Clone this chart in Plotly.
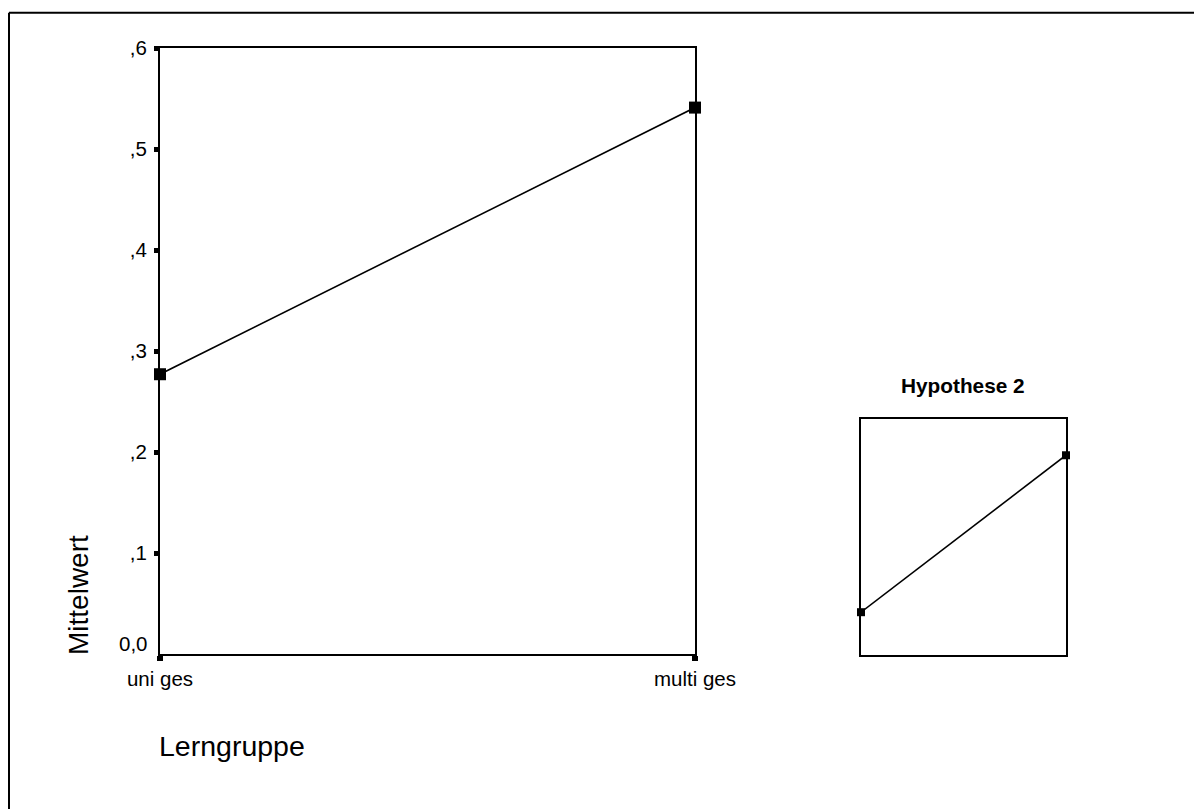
import plotly.graph_objects as go

# Data
categories = ["uni ges", "multi ges"]
means = [0.277, 0.541]
y_tickvals = [0.1, 0.2, 0.3, 0.4, 0.5, 0.6]
y_ticktext = [",1", ",2", ",3", ",4", ",5", ",6"]
zero_label = "0,0"
x_title = "Lerngruppe"
y_title = "Mittelwert"
inset_title = "Hypothese 2"

W, H = 1202, 809
OFF = 8  # page body margin


def px(x):
    return (x - OFF) / W


def py(y):
    return 1 - (y - OFF) / H


FONT = "Liberation Sans, Arial, sans-serif"
TICK_SIZE = 20.5

fig = go.Figure()

fig.add_trace(go.Scatter(
    x=categories, y=means, mode="lines+markers",
    line=dict(color="black", width=1.6),
    marker=dict(symbol="square", size=12, color="black"),
    xaxis="x", yaxis="y", showlegend=False, cliponaxis=False,
))

fig.add_trace(go.Scatter(
    x=categories, y=means, mode="lines+markers",
    line=dict(color="black", width=1.6),
    marker=dict(symbol="square", size=8, color="black"),
    xaxis="x2", yaxis="y2", showlegend=False, cliponaxis=False,
))

fig.update_layout(
    template="none",
    width=W, height=H,
    margin=dict(l=0, r=0, t=0, b=0, pad=0),
    paper_bgcolor="white", plot_bgcolor="white",
    font=dict(family=FONT, color="black", size=TICK_SIZE),
    xaxis=dict(
        domain=[px(160), px(695)], anchor="y", automargin=False,
        type="category", range=[0, 1],
        showline=True, linecolor="black", linewidth=2, mirror=True,
        showgrid=False, zeroline=False,
        ticks="outside", ticklen=5, tickwidth=6, tickcolor="black",
        tickfont=dict(size=TICK_SIZE, family=FONT, color="black"),
    ),
    yaxis=dict(
        domain=[py(654), py(48)], anchor="x", automargin=False,
        range=[0, 0.6],
        tickvals=y_tickvals, ticktext=y_ticktext,
        showline=True, linecolor="black", linewidth=2, mirror=True,
        showgrid=False, zeroline=False,
        ticks="outside", ticklen=4, tickwidth=5, tickcolor="black",
        ticklabelstandoff=3,
        tickfont=dict(size=TICK_SIZE, family=FONT, color="black"),
    ),
    xaxis2=dict(
        domain=[px(861), px(1066)], anchor="y2", automargin=False,
        type="category", range=[0, 1],
        showline=True, linecolor="black", linewidth=2, mirror=True,
        showgrid=False, zeroline=False, showticklabels=False, ticks="",
    ),
    yaxis2=dict(
        domain=[py(655), py(419)], anchor="x2", automargin=False,
        range=[0.205, 0.602],
        showline=True, linecolor="black", linewidth=2, mirror=True,
        showgrid=False, zeroline=False, showticklabels=False, ticks="",
    ),
    shapes=[
        dict(type="line", xref="paper", yref="paper",
             x0=px(9), x1=1.02, y0=py(12.7), y1=py(12.7),
             line=dict(color="black", width=2)),
        dict(type="line", xref="paper", yref="paper",
             x0=px(9), x1=px(9), y0=py(12.7), y1=-0.02,
             line=dict(color="black", width=2)),
    ],
    annotations=[
        dict(text=zero_label, xref="paper", yref="paper",
             x=px(150), y=py(643), xanchor="right", yanchor="middle",
             showarrow=False, font=dict(size=TICK_SIZE, family=FONT, color="black")),
        dict(text=y_title, xref="paper", yref="paper",
             x=px(78), y=py(595), xanchor="center", yanchor="middle",
             textangle=-90, showarrow=False, font=dict(size=28, family=FONT, color="black")),
        dict(text=x_title, xref="paper", yref="paper",
             x=px(157), y=py(746), xanchor="left", yanchor="middle",
             showarrow=False, font=dict(size=28.5, family=FONT, color="black")),
        dict(text="<b>" + inset_title + "</b>", xref="paper", yref="paper",
             x=px(963), y=py(386), xanchor="center", yanchor="middle",
             showarrow=False, font=dict(size=20.8, family=FONT, color="black")),
    ],
)

fig.write_html("out.html")
